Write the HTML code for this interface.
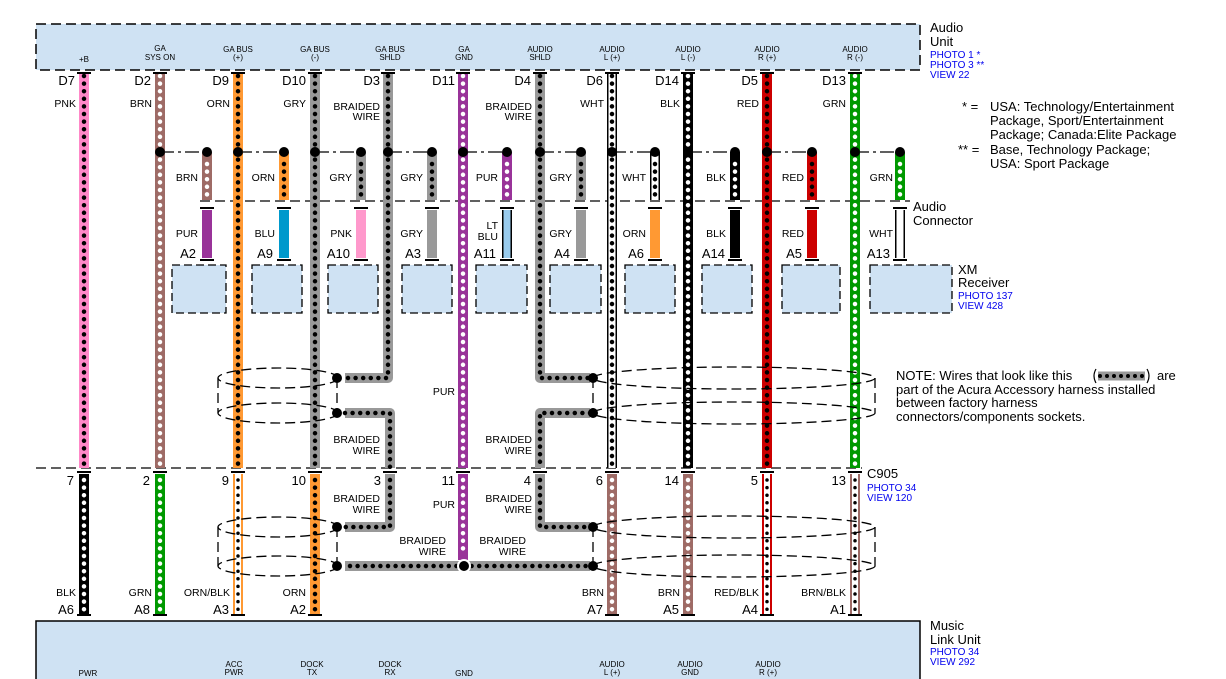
<!DOCTYPE html>
<html><head><meta charset="utf-8"><style>
html,body{margin:0;padding:0;background:#fff}
svg{display:block;font-family:"Liberation Sans",sans-serif}
.dt{stroke-dasharray:0 7.6;stroke-linecap:round;stroke-width:4.5;fill:none}
.dk{stroke:#000}.wt{stroke:#fff}
.s{font-size:10.5px}.t{font-size:8px}.p{font-size:14px}.b{fill:#0000ee;font-size:10px}.n{font-size:13px}
.dash{stroke:#000;stroke-width:1.3;stroke-dasharray:10 5;fill:none}
.dd{stroke:#000;stroke-width:1.3;stroke-dasharray:14 4 3 4;fill:none}
.bw{fill:none;stroke:#999;stroke-width:10;stroke-linejoin:round}
</style></head><body>
<svg width="1226" height="679" viewBox="0 0 1226 679">
<rect x="36" y="24" width="884" height="46" fill="#cfe2f3" stroke="#000" stroke-width="1.5" stroke-dasharray="10 5"/>
<rect x="36" y="621" width="884" height="70" fill="#cfe2f3" stroke="#000" stroke-width="1.5"/>

<g class="dd">
<line x1="160" y1="152" x2="207" y2="152"/><line x1="238" y1="152" x2="284" y2="152"/>
<line x1="315" y1="152" x2="361" y2="152"/><line x1="388" y1="152" x2="432" y2="152"/>
<line x1="463" y1="152" x2="507" y2="152"/><line x1="540" y1="152" x2="581" y2="152"/>
<line x1="612" y1="152" x2="655" y2="152"/><line x1="688" y1="152" x2="735" y2="152"/>
<line x1="767" y1="152" x2="812" y2="152"/><line x1="855" y1="152" x2="900" y2="152"/>
</g>
<line class="dash" x1="200" y1="201" x2="910" y2="201"/>
<line class="dash" x1="36" y1="468" x2="862" y2="468"/>

<g fill="#cfe2f3" stroke="#000" stroke-width="1.3" stroke-dasharray="8 4">
<rect x="172" y="265" width="54" height="48"/><rect x="252" y="265" width="50" height="48"/>
<rect x="328" y="265" width="50" height="48"/><rect x="402" y="265" width="50" height="48"/>
<rect x="476" y="265" width="51" height="48"/><rect x="550" y="265" width="51" height="48"/>
<rect x="625" y="265" width="50" height="48"/><rect x="702" y="265" width="50" height="48"/>
<rect x="782" y="265" width="58" height="48"/><rect x="870" y="265" width="82" height="48"/>
</g>

<line x1="84" y1="72" x2="84" y2="468" stroke="#ff88c8" stroke-width="10"/><line class="dt dk" x1="84" y1="76" x2="84" y2="468"/>
<line x1="160" y1="72" x2="160" y2="468" stroke="#9e6b66" stroke-width="10"/><line class="dt wt" x1="160" y1="76" x2="160" y2="468"/>
<line x1="238" y1="72" x2="238" y2="468" stroke="#ff9933" stroke-width="10"/><line class="dt dk" x1="238" y1="76" x2="238" y2="468"/>
<line x1="315" y1="72" x2="315" y2="468" stroke="#999" stroke-width="10"/><line class="dt dk" x1="315" y1="76" x2="315" y2="468"/>
<polyline class="bw" points="388,72 388,378 345,378"/><polyline class="dt dk" points="388,76 388,378 345,378"/>
<line x1="463" y1="72" x2="463" y2="468" stroke="#993399" stroke-width="10"/><line class="dt wt" x1="463" y1="76" x2="463" y2="468"/>
<polyline class="bw" points="540,72 540,378 590,378"/><polyline class="dt dk" points="540,76 540,378 590,378"/>
<line x1="612" y1="72" x2="612" y2="468" stroke="#000" stroke-width="10"/><line x1="612" y1="72" x2="612" y2="468" stroke="#fff" stroke-width="7"/><line class="dt dk" x1="612" y1="76" x2="612" y2="468"/>
<line x1="688" y1="72" x2="688" y2="468" stroke="#000" stroke-width="10"/><line class="dt wt" x1="688" y1="76" x2="688" y2="468"/>
<line x1="767" y1="72" x2="767" y2="468" stroke="#cc0000" stroke-width="10"/><line class="dt dk" x1="767" y1="76" x2="767" y2="468"/>
<line x1="855" y1="72" x2="855" y2="468" stroke="#009900" stroke-width="10"/><line class="dt wt" x1="855" y1="76" x2="855" y2="468"/>

<polyline class="bw" points="345,413 390,413 390,468"/><polyline class="dt dk" points="345,413 390,413 390,468"/>
<polyline class="bw" points="590,413 540,413 540,468"/><polyline class="dt dk" points="590,413 540,413 540,468"/>

<g stroke-width="10">
<line x1="207" y1="152" x2="207" y2="200" stroke="#9e6b66"/><line x1="284" y1="152" x2="284" y2="200" stroke="#ff9933"/>
<line x1="361" y1="152" x2="361" y2="200" stroke="#999"/><line x1="432" y1="152" x2="432" y2="200" stroke="#999"/>
<line x1="507" y1="152" x2="507" y2="200" stroke="#993399"/><line x1="581" y1="152" x2="581" y2="200" stroke="#999"/>
<line x1="655" y1="152" x2="655" y2="200" stroke="#000"/><line x1="735" y1="152" x2="735" y2="200" stroke="#000"/>
<line x1="812" y1="152" x2="812" y2="200" stroke="#cc0000"/><line x1="900" y1="152" x2="900" y2="200" stroke="#009900"/>
</g>
<line x1="655" y1="152" x2="655" y2="200" stroke="#fff" stroke-width="7"/>
<line class="dt wt" x1="207" y1="164" x2="207" y2="198"/><line class="dt dk" x1="284" y1="164" x2="284" y2="198"/>
<line class="dt dk" x1="361" y1="164" x2="361" y2="198"/><line class="dt dk" x1="432" y1="164" x2="432" y2="198"/>
<line class="dt wt" x1="507" y1="164" x2="507" y2="198"/><line class="dt dk" x1="581" y1="164" x2="581" y2="198"/>
<line class="dt dk" x1="655" y1="164" x2="655" y2="198"/><line class="dt wt" x1="735" y1="164" x2="735" y2="198"/>
<line class="dt dk" x1="812" y1="164" x2="812" y2="198"/><line class="dt wt" x1="900" y1="164" x2="900" y2="198"/>

<g stroke-width="10">
<line x1="207" y1="210" x2="207" y2="258" stroke="#993399"/><line x1="284" y1="210" x2="284" y2="258" stroke="#0099cc"/>
<line x1="361" y1="210" x2="361" y2="258" stroke="#ff99cc"/><line x1="432" y1="210" x2="432" y2="258" stroke="#999"/>
<line x1="507" y1="210" x2="507" y2="258" stroke="#000"/><line x1="581" y1="210" x2="581" y2="258" stroke="#999"/>
<line x1="655" y1="210" x2="655" y2="258" stroke="#ff9933"/><line x1="735" y1="210" x2="735" y2="258" stroke="#000"/>
<line x1="812" y1="210" x2="812" y2="258" stroke="#cc0000"/><line x1="900" y1="210" x2="900" y2="258" stroke="#000"/>
</g>
<line x1="507" y1="210" x2="507" y2="258" stroke="#99ccee" stroke-width="7"/>
<line x1="900" y1="210" x2="900" y2="258" stroke="#fff" stroke-width="7"/>
<g stroke="#000" stroke-width="2" fill="none">
<path d="M200 208 h14 M200 260 h14 M277 208 h14 M277 260 h14 M354 208 h14 M354 260 h14 M425 208 h14 M425 260 h14 M500 208 h14 M500 260 h14 M574 208 h14 M574 260 h14 M648 208 h14 M648 260 h14 M728 208 h14 M728 260 h14 M805 208 h14 M805 260 h14 M893 208 h14 M893 260 h14"/>
<path d="M77 73 h14 M153 73 h14 M231 73 h14 M308 73 h14 M381 73 h14 M456 73 h14 M533 73 h14 M605 73 h14 M681 73 h14 M760 73 h14 M848 73 h14"/>
<path d="M77 472 h14 M153 472 h14 M231 472 h14 M308 472 h14 M383 472 h14 M456 472 h14 M533 472 h14 M605 472 h14 M681 472 h14 M760 472 h14 M848 472 h14"/>
<path d="M77 615 h14 M153 615 h14 M231 615 h14 M308 615 h14 M605 615 h14 M681 615 h14 M760 615 h14 M848 615 h14"/>
</g>

<line x1="84" y1="474" x2="84" y2="614" stroke="#000" stroke-width="10"/><line class="dt wt" x1="84" y1="480" x2="84" y2="612"/>
<line x1="160" y1="474" x2="160" y2="614" stroke="#009900" stroke-width="10"/><line class="dt wt" x1="160" y1="480" x2="160" y2="612"/>
<line x1="238" y1="474" x2="238" y2="614" stroke="#ff9933" stroke-width="10"/><line x1="238" y1="474" x2="238" y2="614" stroke="#fff" stroke-width="6"/><line class="dt dk" x1="238" y1="480" x2="238" y2="612" style="stroke-width:3.5"/>
<line x1="315" y1="474" x2="315" y2="614" stroke="#ff9933" stroke-width="10"/><line class="dt dk" x1="315" y1="480" x2="315" y2="612"/>
<polyline class="bw" points="390,474 390,527 345,527"/><polyline class="dt dk" points="390,480 390,527 345,527"/>
<polyline class="bw" points="540,474 540,527 590,527"/><polyline class="dt dk" points="540,480 540,527 590,527"/>
<line x1="463" y1="474" x2="463" y2="560" stroke="#993399" stroke-width="10"/><line class="dt wt" x1="463" y1="480" x2="463" y2="556"/>
<line class="bw" x1="345" y1="566" x2="590" y2="566"/><line class="dt dk" x1="350" y1="566" x2="588" y2="566"/>
<line x1="612" y1="474" x2="612" y2="614" stroke="#9e6b66" stroke-width="10"/><line class="dt wt" x1="612" y1="480" x2="612" y2="612"/>
<line x1="688" y1="474" x2="688" y2="614" stroke="#9e6b66" stroke-width="10"/><line class="dt wt" x1="688" y1="480" x2="688" y2="612"/>
<line x1="767" y1="474" x2="767" y2="614" stroke="#cc0000" stroke-width="10"/><line x1="767" y1="474" x2="767" y2="614" stroke="#fff" stroke-width="6"/><line class="dt dk" x1="767" y1="480" x2="767" y2="612" style="stroke-width:3.5"/>
<line x1="855" y1="474" x2="855" y2="614" stroke="#9e6b66" stroke-width="10"/><line x1="855" y1="474" x2="855" y2="614" stroke="#fff" stroke-width="6"/><line class="dt dk" x1="855" y1="480" x2="855" y2="612" style="stroke-width:3.5"/>

<g class="dash">
<ellipse cx="278" cy="378" rx="60" ry="10"/><ellipse cx="278" cy="413" rx="60" ry="10"/>
<ellipse cx="278" cy="527" rx="60" ry="10"/><ellipse cx="278" cy="566" rx="60" ry="10"/>
<ellipse cx="734" cy="378" rx="141" ry="11"/><ellipse cx="734" cy="413" rx="141" ry="11"/>
<ellipse cx="734" cy="527" rx="141" ry="11"/><ellipse cx="734" cy="566" rx="141" ry="11"/>
<line x1="218" y1="378" x2="218" y2="413"/><line x1="218" y1="527" x2="218" y2="566"/>
<line x1="337" y1="378" x2="337" y2="413"/><line x1="337" y1="527" x2="337" y2="566"/>
<line x1="593" y1="378" x2="593" y2="413"/><line x1="593" y1="527" x2="593" y2="566"/>
<line x1="875" y1="378" x2="875" y2="413"/><line x1="875" y1="527" x2="875" y2="566"/>
</g>

<g fill="#000">
<circle cx="160" cy="152" r="5"/><circle cx="207" cy="152" r="5"/><circle cx="238" cy="152" r="5"/><circle cx="284" cy="152" r="5"/>
<circle cx="315" cy="152" r="5"/><circle cx="361" cy="152" r="5"/><circle cx="388" cy="152" r="5"/><circle cx="432" cy="152" r="5"/>
<circle cx="463" cy="152" r="5"/><circle cx="507" cy="152" r="5"/><circle cx="540" cy="152" r="5"/><circle cx="581" cy="152" r="5"/>
<circle cx="612" cy="152" r="5"/><circle cx="655" cy="152" r="5"/><circle cx="688" cy="152" r="5"/><circle cx="735" cy="152" r="5"/>
<circle cx="767" cy="152" r="5"/><circle cx="812" cy="152" r="5"/><circle cx="855" cy="152" r="5"/><circle cx="900" cy="152" r="5"/>
<circle cx="337" cy="378" r="5"/><circle cx="337" cy="413" r="5"/><circle cx="337" cy="527" r="5"/><circle cx="337" cy="566" r="5"/>
<circle cx="593" cy="378" r="5"/><circle cx="593" cy="413" r="5"/><circle cx="593" cy="527" r="5"/><circle cx="593" cy="566" r="5"/>
<circle cx="464" cy="566" r="6" stroke="#fff" stroke-width="2"/>
</g>

<g class="t" text-anchor="middle">
<text x="84" y="62">+B</text>
<text x="160" y="51">GA</text><text x="160" y="60">SYS ON</text>
<text x="238" y="52">GA BUS</text><text x="238" y="60">(+)</text>
<text x="315" y="52">GA BUS</text><text x="315" y="60">(-)</text>
<text x="390" y="52">GA BUS</text><text x="390" y="60">SHLD</text>
<text x="464" y="52">GA</text><text x="464" y="60">GND</text>
<text x="540" y="52">AUDIO</text><text x="540" y="60">SHLD</text>
<text x="612" y="52">AUDIO</text><text x="612" y="60">L (+)</text>
<text x="688" y="52">AUDIO</text><text x="688" y="60">L (-)</text>
<text x="767" y="52">AUDIO</text><text x="767" y="60">R (+)</text>
<text x="855" y="52">AUDIO</text><text x="855" y="60">R (-)</text>
<text x="88" y="676">PWR</text>
<text x="234" y="667">ACC</text><text x="234" y="675">PWR</text>
<text x="312" y="667">DOCK</text><text x="312" y="675">TX</text>
<text x="390" y="667">DOCK</text><text x="390" y="675">RX</text>
<text x="464" y="676">GND</text>
<text x="612" y="667">AUDIO</text><text x="612" y="675">L (+)</text>
<text x="690" y="667">AUDIO</text><text x="690" y="675">GND</text>
<text x="768" y="667">AUDIO</text><text x="768" y="675">R (+)</text>
</g>

<g class="s" text-anchor="end">
<text x="76" y="107">PNK</text><text x="152" y="107">BRN</text><text x="230" y="107">ORN</text><text x="306" y="107">GRY</text>
<text x="380" y="110">BRAIDED</text><text x="380" y="120">WIRE</text>
<text x="532" y="110">BRAIDED</text><text x="532" y="120">WIRE</text>
<text x="604" y="107">WHT</text><text x="680" y="107">BLK</text><text x="759" y="107">RED</text><text x="846" y="107">GRN</text>
<text x="198" y="181">BRN</text><text x="275" y="181">ORN</text><text x="352" y="181">GRY</text><text x="423" y="181">GRY</text>
<text x="498" y="181">PUR</text><text x="572" y="181">GRY</text><text x="646" y="181">WHT</text><text x="726" y="181">BLK</text>
<text x="804" y="181">RED</text><text x="893" y="181">GRN</text>
<text x="198" y="237">PUR</text><text x="275" y="237">BLU</text><text x="352" y="237">PNK</text><text x="423" y="237">GRY</text>
<text x="498" y="229">LT</text><text x="498" y="240">BLU</text><text x="572" y="237">GRY</text><text x="646" y="237">ORN</text>
<text x="726" y="237">BLK</text><text x="804" y="237">RED</text><text x="893" y="237">WHT</text>
<text x="455" y="395">PUR</text><text x="455" y="508">PUR</text>
<text x="380" y="443">BRAIDED</text><text x="380" y="454">WIRE</text>
<text x="532" y="443">BRAIDED</text><text x="532" y="454">WIRE</text>
<text x="380" y="502">BRAIDED</text><text x="380" y="513">WIRE</text>
<text x="532" y="502">BRAIDED</text><text x="532" y="513">WIRE</text>
<text x="446" y="544">BRAIDED</text><text x="446" y="555">WIRE</text>
<text x="526" y="544">BRAIDED</text><text x="526" y="555">WIRE</text>
<text x="76" y="596">BLK</text><text x="152" y="596">GRN</text><text x="230" y="596">ORN/BLK</text><text x="306" y="596">ORN</text>
<text x="604" y="596">BRN</text><text x="680" y="596">BRN</text><text x="759" y="596">RED/BLK</text><text x="846" y="596">BRN/BLK</text>
</g>

<g class="n" text-anchor="end">
<text x="75" y="85">D7</text><text x="151" y="85">D2</text><text x="229" y="85">D9</text><text x="306" y="85">D10</text>
<text x="380" y="85">D3</text><text x="455" y="85">D11</text><text x="531" y="85">D4</text><text x="603" y="85">D6</text>
<text x="679" y="85">D14</text><text x="758" y="85">D5</text><text x="846" y="85">D13</text>
<text x="196" y="258">A2</text><text x="273" y="258">A9</text><text x="350" y="258">A10</text><text x="421" y="258">A3</text>
<text x="496" y="258">A11</text><text x="570" y="258">A4</text><text x="644" y="258">A6</text><text x="725" y="258">A14</text>
<text x="802" y="258">A5</text><text x="890" y="258">A13</text>
<text x="74" y="485">7</text><text x="150" y="485">2</text><text x="229" y="485">9</text><text x="306" y="485">10</text>
<text x="381" y="485">3</text><text x="455" y="485">11</text><text x="531" y="485">4</text><text x="603" y="485">6</text>
<text x="679" y="485">14</text><text x="758" y="485">5</text><text x="846" y="485">13</text>
<text x="74" y="614">A6</text><text x="150" y="614">A8</text><text x="229" y="614">A3</text><text x="306" y="614">A2</text>
<text x="603" y="614">A7</text><text x="679" y="614">A5</text><text x="758" y="614">A4</text><text x="846" y="614">A1</text>
</g>

<g class="n">
<text x="930" y="32">Audio</text><text x="930" y="46">Unit</text>
<text x="958" y="274">XM</text><text x="958" y="287">Receiver</text>
<text x="913" y="211">Audio</text><text x="913" y="225">Connector</text>
<text x="867" y="478">C905</text>
<text x="930" y="630">Music</text><text x="930" y="644">Link Unit</text>
<text x="962" y="111">* =</text><text x="990" y="111">USA: Technology/Entertainment</text>
<text x="990" y="125">Package, Sport/Entertainment</text>
<text x="990" y="139">Package; Canada:Elite Package</text>
<text x="958" y="154">** =</text><text x="990" y="154">Base, Technology Package;</text>
<text x="990" y="168">USA: Sport Package</text>
<text x="896" y="380">NOTE: Wires that look like this</text><text x="1157" y="380">are</text>
<text x="896" y="394">part of the Acura Accessory harness installed</text>
<text x="896" y="407">between factory harness</text>
<text x="896" y="421">connectors/components sockets.</text>
</g>
<g class="b">
<text x="930" y="58">PHOTO 1 *</text><text x="930" y="68">PHOTO 3 **</text><text x="930" y="78">VIEW 22</text>
<text x="958" y="299">PHOTO 137</text><text x="958" y="309">VIEW 428</text>
<text x="867" y="491">PHOTO 34</text><text x="867" y="501">VIEW 120</text>
<text x="930" y="655">PHOTO 34</text><text x="930" y="665">VIEW 292</text>
</g>
<line x1="1098" y1="376" x2="1145" y2="376" stroke="#999" stroke-width="9"/>
<line class="dt dk" x1="1100" y1="376" x2="1145" y2="376" style="stroke-dasharray:0 7;stroke-width:4"/>
<path d="M1096 369 q-4 7 0 14 M1147 369 q4 7 0 14" stroke="#000" stroke-width="1.2" fill="none"/>
</svg>
</body></html>
